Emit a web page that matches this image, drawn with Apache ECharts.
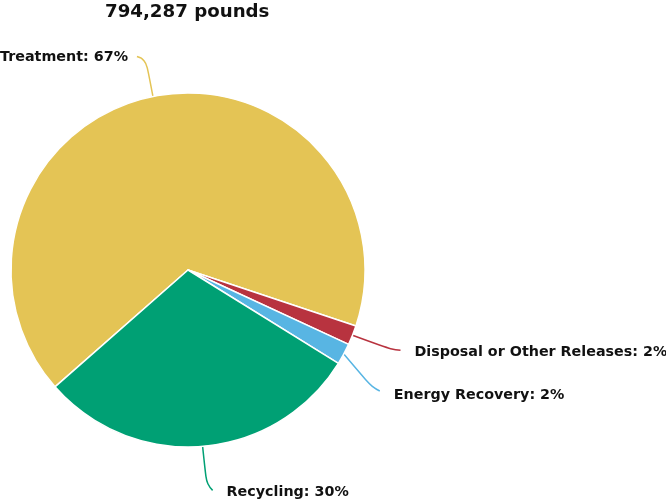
<!DOCTYPE html>
<html><head><meta charset="utf-8">
<script src="https://cdn.jsdelivr.net/npm/echarts@6/dist/echarts.min.js"></script>
<style>html,body{margin:0;padding:0;background:#fff}#c{width:666px;height:502px}</style>
</head><body><div id="c"></div>
<script>
const titleText = '794,287 pounds';
const categories = ['Treatment', 'Disposal or Other Releases', 'Energy Recovery', 'Recycling'];
const values = [529000, 14100, 15400, 235787];
const colors = ['#E4C455', '#B8333F', '#58B5E3', '#00A074'];

// label guide offsets relative to the slice edge anchor: [elbow dx, dy, end dx, dy, label dx, dy, align]
const guide = {
  'Treatment': [-7, -37, -16, -40, -25, -39, 'right'],
  'Disposal or Other Releases': [38, 14, 48, 15, 62, 17, 'left'],
  'Energy Recovery': [28, 33, 36, 37, 50, 41, 'left'],
  'Recycling': [4, 38, 10, 44, 24, 46, 'left']
};

const total = values.reduce((a, b) => a + b, 0);
const chart = echarts.init(document.getElementById('c'), null, {renderer: 'canvas'});
chart.setOption({
  animation: false,
  title: {
    text: titleText, left: 105, top: 3, padding: 0,
    textStyle: {fontFamily: 'DejaVu Sans', fontWeight: 'bold', fontSize: 18.2, color: '#111'}
  },
  series: [{
    type: 'pie',
    center: [188, 270],
    radius: 177,
    startAngle: 221.3,
    clockwise: true,
    avoidLabelOverlap: false,
    data: categories.map((c, i) => ({name: c, value: values[i], itemStyle: {color: colors[i]}})),
    itemStyle: {borderColor: '#fff', borderWidth: 1.5},
    label: {
      show: true, position: 'outside',
      formatter: p => p.name + ': ' + Math.round(p.value / total * 100) + '%',
      fontFamily: 'DejaVu Sans', fontWeight: 'bold', fontSize: 14.3, color: '#111'
    },
    labelLine: {show: true, smooth: 0.5, length: 30, length2: 10, lineStyle: {width: 1.5}},
    emphasis: {disabled: true},
    labelLayout: function (params) {
      const name = categories[params.dataIndex];
      const g = guide[name];
      const p0 = params.labelLinePoints[0];
      return {
        x: p0[0] + g[4], y: p0[1] + g[5],
        align: g[6], verticalAlign: 'middle',
        labelLinePoints: [p0, [p0[0] + g[0], p0[1] + g[1]], [p0[0] + g[2], p0[1] + g[3]]]
      };
    }
  }]
});
</script></body></html>
